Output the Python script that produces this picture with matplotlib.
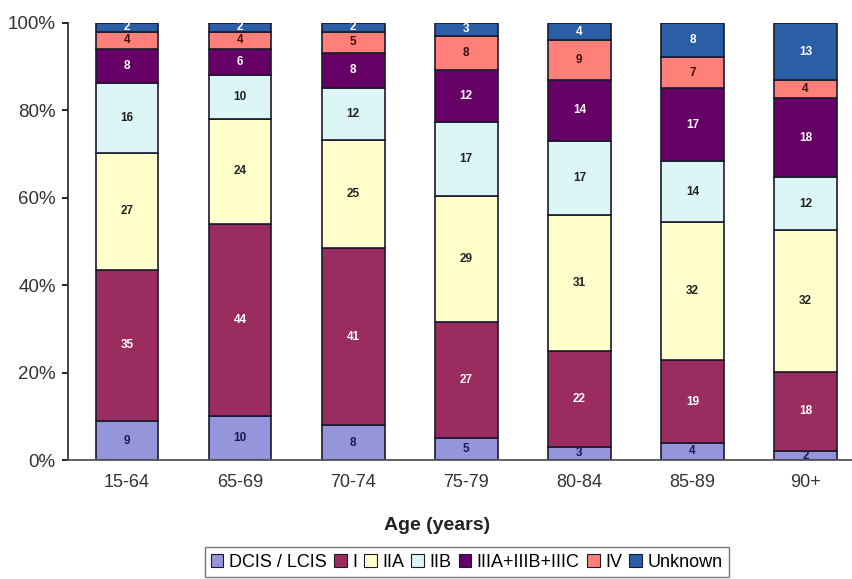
import matplotlib.pyplot as plt
import numpy as np

plt.rcParams['font.family'] = ['Liberation Sans', 'DejaVu Sans']

ages = ['15-64', '65-69', '70-74', '75-79', '80-84', '85-89', '90+']
stages = ['DCIS / LCIS', 'I', 'IIA', 'IIB', 'IIIA+IIIB+IIIC', 'IV', 'Unknown']
dcis = [9, 10, 8, 5, 3, 4, 2]
st1 = [35, 44, 41, 27, 22, 19, 18]
st2a = [27, 24, 25, 29, 31, 32, 32]
st2b = [16, 10, 12, 17, 17, 14, 12]
st3 = [8, 6, 8, 12, 14, 17, 18]
st4 = [4, 4, 5, 8, 9, 7, 4]
unknown = [2, 2, 2, 3, 4, 8, 13]

colors = ['#9595db', '#9b2c5f', '#ffffcc', '#dcf5f5', '#660066', '#ff8078', '#2a5fa5']
text_colors = ['#1a1a50', 'white', '#222222', '#222222', 'white', '#3a1010', 'white']

series = np.array([dcis, st1, st2a, st2b, st3, st4, unknown], dtype=float)
pct = series / series.sum(axis=0) * 100

fig = plt.figure(figsize=(8.53, 5.79), dpi=100)
ax = fig.add_axes([0.08, 0.2055, 0.92, 0.755])

x = np.arange(len(ages))
bottom = np.zeros(len(ages))
for i, name in enumerate(stages):
    ax.bar(x, pct[i], 0.555, bottom=bottom, color=colors[i],
           edgecolor='#1a1a2e', linewidth=1.2, label=name)
    for j in range(len(ages)):
        ax.text(x[j], bottom[j] + pct[i][j] / 2, '%d' % series[i][j],
                ha='center', va='center', fontsize=8.5, fontweight='bold',
                color=text_colors[i])
    bottom += pct[i]

ax.set_xlim(-0.52, 6.42)
ax.set_ylim(0, 100)
ax.set_yticks([0, 20, 40, 60, 80, 100])
ax.set_yticklabels(['0%', '20%', '40%', '60%', '80%', '100%'], color='#333333')
ax.set_xticks(x)
ax.set_xticklabels(ages, color='#333333')
ax.tick_params(axis='y', labelsize=13.5, length=4, width=1.2, pad=5)
ax.tick_params(axis='x', labelsize=13, length=0, pad=10)
for s in ['top', 'right']:
    ax.spines[s].set_visible(False)
ax.spines['left'].set_linewidth(1.3)
ax.spines['bottom'].set_linewidth(1.3)
ax.spines['left'].set_color('#333333')
ax.spines['bottom'].set_color('#555555')

ax.set_xlabel('Age (years)', fontsize=14, fontweight='bold', color='#222222')
ax.xaxis.set_label_coords(0.47, -0.13)

leg = fig.legend(loc='lower center', bbox_to_anchor=(0.547, -0.012), ncol=7,
                 fontsize=13, handlelength=0.7, handleheight=0.7,
                 handletextpad=0.3, columnspacing=0.4, borderpad=0.35,
                 frameon=True, fancybox=False, edgecolor='#555555')
for h in leg.legend_handles:
    h.set_linewidth(0.8)

fig.savefig('out.png', dpi=100)
